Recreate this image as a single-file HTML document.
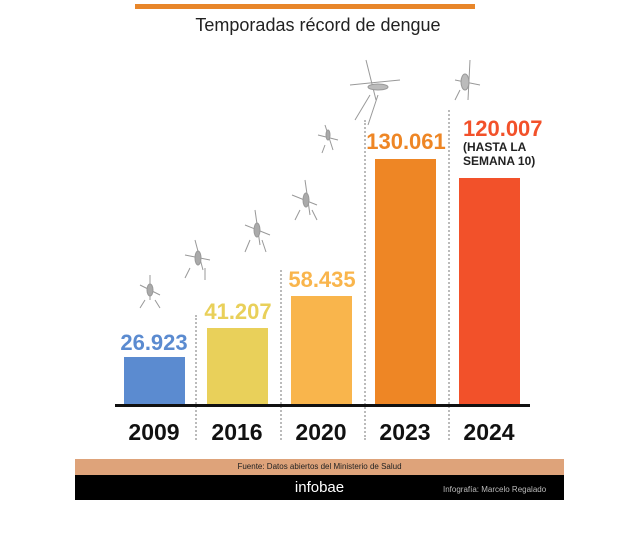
<!DOCTYPE html>
<html><head><meta charset="utf-8"><style>
body{margin:0;width:620px;height:535px;background:#fff;position:relative;overflow:hidden;font-family:"Liberation Sans",sans-serif}
.a{position:absolute}
.bar{position:absolute;width:61px;bottom:130px}
.v{position:absolute;font-weight:bold;font-size:22px;width:100px;text-align:center}
.y{position:absolute;top:419px;font-weight:bold;font-size:23px;color:#111;width:84px;text-align:center}
.d{position:absolute;width:0;border-left:2px dotted #bbb;top:120px;height:322px}
</style></head><body>
<div class="a" style="left:135px;top:4px;width:340px;height:5px;background:#e8862a"></div>
<div class="a" style="left:0;width:636px;top:15px;text-align:center;font-size:18px;color:#222">Temporadas récord de dengue</div>
<div class="d" style="left:195px;top:315px;height:125px"></div>
<div class="d" style="left:280px;top:270px;height:170px"></div>
<div class="d" style="left:364px;top:120px;height:320px"></div>
<div class="d" style="left:448px;top:110px;height:330px"></div>
<div class="bar" style="left:124px;top:357px;height:48px;background:#5b8bd0"></div>
<div class="bar" style="left:207px;top:328px;height:77px;background:#e9d05a"></div>
<div class="bar" style="left:291px;top:296px;height:109px;background:#f9b54c"></div>
<div class="bar" style="left:375px;top:159px;height:246px;background:#ee8625"></div>
<div class="bar" style="left:459px;top:178px;height:227px;background:#f2512a"></div>
<div class="a" style="left:115px;top:404px;width:415px;height:3px;background:#111"></div>
<div class="v" style="left:104px;top:330px;color:#5b8bd0">26.923</div>
<div class="v" style="left:188px;top:299px;color:#e9d05a">41.207</div>
<div class="v" style="left:272px;top:267px;color:#f9b54c">58.435</div>
<div class="v" style="left:356px;top:129px;color:#ee8625">130.061</div>
<div class="a" style="left:463px;top:116px;font-weight:bold;font-size:22px;color:#f2512a">120.007</div>
<div class="a" style="left:463px;top:140px;font-weight:bold;font-size:12px;color:#222;line-height:14px">(HASTA LA<br>SEMANA 10)</div>
<div class="y" style="left:112px">2009</div>
<div class="y" style="left:195px">2016</div>
<div class="y" style="left:279px">2020</div>
<div class="y" style="left:363px">2023</div>
<div class="y" style="left:447px">2024</div>
<svg class="a" style="left:0;top:0" width="620" height="535" stroke="#999" stroke-width="1" fill="none">
<g><path d="M150 275l0 25M140 285l20 10M145 300l-5 8M155 300l5 8"/><ellipse cx="150" cy="290" rx="3" ry="6" fill="#aaa"/></g>
<g><path d="M195 240l8 30M185 255l25 5M190 268l-5 10M205 268l0 12"/><ellipse cx="198" cy="258" rx="3" ry="7" fill="#aaa"/></g>
<g><path d="M255 210l5 35M245 225l25 10M250 240l-5 12M262 240l4 12"/><ellipse cx="257" cy="230" rx="3" ry="7" fill="#aaa"/></g>
<g><path d="M305 180l5 35M292 195l25 10M300 210l-5 10M312 210l5 10"/><ellipse cx="306" cy="200" rx="3" ry="7" fill="#aaa"/></g>
<g><path d="M325 125l8 25M318 135l20 5M325 145l-3 8"/><ellipse cx="328" cy="135" rx="2" ry="5" fill="#aaa"/></g>
<g><path d="M366 60l10 40M350 85l50 -5M370 95l-15 25M378 95l-10 30"/><ellipse cx="378" cy="87" rx="10" ry="3" fill="#bbb"/></g>
<g><path d="M470 60l-2 40M455 80l25 5M460 90l-5 10"/><ellipse cx="465" cy="82" rx="4" ry="8" fill="#bbb"/></g>
</svg>
<div class="a" style="left:75px;top:459px;width:489px;height:16px;background:#dea37a;font-size:8px;text-align:center;line-height:16px;color:#222">Fuente: Datos abiertos del Ministerio de Salud</div>
<div class="a" style="left:75px;top:475px;width:489px;height:25px;background:#000"></div>
<div class="a" style="left:75px;top:479px;width:489px;text-align:center;color:#fff;font-size:15px">infobae</div>
<div class="a" style="left:443px;top:485px;color:#bbb;font-size:8px">Infografía: Marcelo Regalado</div>
</body></html>
